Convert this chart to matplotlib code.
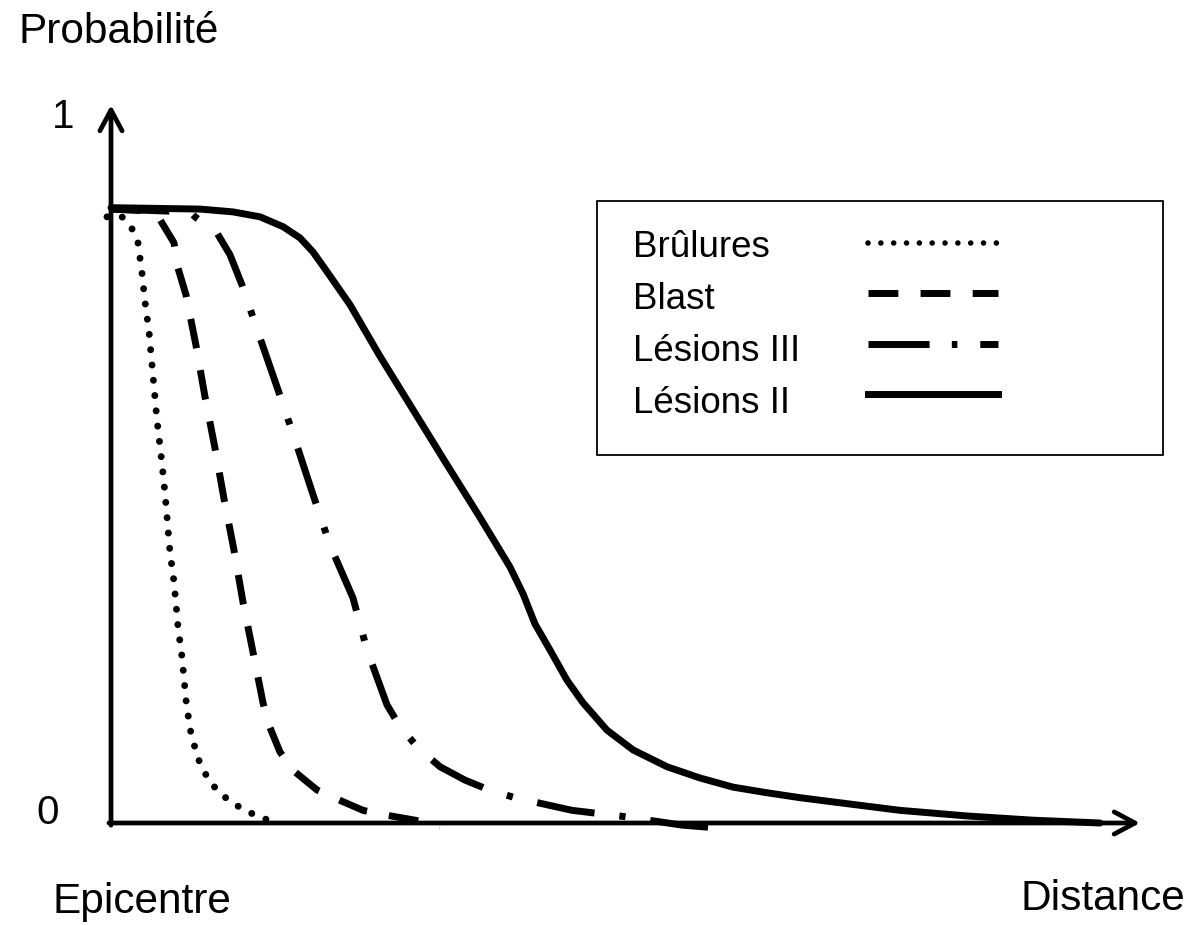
import matplotlib
matplotlib.use("Agg")
import matplotlib.pyplot as plt
from matplotlib.lines import Line2D
from matplotlib.patches import Rectangle

# ── Data (distance in arbitrary units from the epicentre, probability 0..1) ──
brulures_x = [-0.4, 1.1, 2.1, 2.7, 3.1, 3.4, 3.8, 4.2, 4.6, 5.1, 5.4, 5.9, 6.3,
              6.7, 7.1, 7.5, 7.9, 8.3, 8.7, 9.3, 10.1, 11.1, 12.3, 13.6, 15.0, 16.2]
brulures_y = [0.862, 0.862, 0.845, 0.825, 0.782, 0.741, 0.699, 0.636, 0.573, 0.511,
              0.469, 0.385, 0.343, 0.279, 0.236, 0.175, 0.134, 0.112, 0.092, 0.073,
              0.055, 0.040, 0.027, 0.017, 0.007, 0.003]

blast_x = [0.0, 3.0, 4.9, 6.3, 6.7, 7.5, 8.5, 9.4, 10.4, 11.3, 12.3, 13.2, 14.2,
           15.2, 15.8, 16.9, 18.2, 20.6, 22.6, 25.2, 27.6, 30.4, 32.9]
blast_y = [0.873, 0.871, 0.858, 0.825, 0.789, 0.751, 0.679, 0.606, 0.533, 0.461,
           0.388, 0.314, 0.243, 0.171, 0.139, 0.101, 0.075, 0.047, 0.034, 0.018,
           0.011, 0.004, -0.004]

lesions3_x = [0.0, 7.9, 8.4, 10.6, 11.9, 13.1, 14.8, 16.7, 18.4, 20.2, 21.9, 24.2,
              25.6, 27.6, 28.9, 30.7, 32.9, 35.4, 37.8, 40.4, 46.1, 51.4, 57.1, 59.7]
lesions3_y = [0.873, 0.869, 0.862, 0.839, 0.808, 0.765, 0.694, 0.616, 0.545, 0.467,
              0.395, 0.320, 0.246, 0.168, 0.137, 0.107, 0.080, 0.061, 0.047, 0.036,
              0.018, 0.009, -0.003, -0.006]

lesions2_x = [0.0, 8.9, 12.2, 14.9, 17.2, 18.9, 20.2, 21.6, 23.9, 26.8, 30.1, 33.4,
              36.7, 37.9, 39.9, 41.2, 42.4, 43.9, 45.6, 47.2, 49.6, 52.2, 55.6, 58.9,
              62.2, 65.6, 68.9, 72.2, 78.9, 85.6, 92.2, 98.9]
lesions2_y = [0.875, 0.873, 0.869, 0.862, 0.848, 0.832, 0.812, 0.784, 0.737, 0.666,
              0.590, 0.514, 0.439, 0.411, 0.364, 0.326, 0.283, 0.246, 0.203, 0.171,
              0.132, 0.104, 0.080, 0.064, 0.051, 0.043, 0.036, 0.030, 0.018, 0.010,
              0.004, 0.0]

labels = ["Brûlures", "Blast", "Lésions III", "Lésions II"]
series = [(brulures_x, brulures_y), (blast_x, blast_y),
          (lesions3_x, lesions3_y), (lesions2_x, lesions2_y)]

STYLES = [
    {"ls": (0, (0.01, 2.2)), "cap": "round"},
    {"ls": (0, (4.3, 3.2)), "cap": "butt"},
    {"ls": (0, (8.4, 3.6, 0.9, 3.6)), "cap": "butt"},
    {"ls": "solid", "cap": "round"},
]
LEG_STYLES = [
    {"ls": (0, (0.01, 2.3)), "cap": "round", "lw": 4},
    {"ls": (0, (4.3, 3.2)), "cap": "butt", "lw": 5},
    {"ls": (0, (8.8, 3.2, 0.8, 3.3)), "cap": "butt", "lw": 5},
    {"ls": "solid", "cap": "butt", "lw": 5},
]

W, H = 1192, 925
plt.rcParams["font.family"] = ["Liberation Sans", "DejaVu Sans"]

fig = plt.figure(figsize=(W / 100, H / 100), dpi=100)
fig.patch.set_facecolor("white")


def fx(px):
    return px / W


def fy(py):
    return 1 - py / H


ax = fig.add_axes([fx(111), fy(823), (1140 - 111) / W, (823 - 105) / H])
ax.set_xlim(0, 102.9)
ax.set_ylim(0, 1.021)
ax.axis("off")

for (xs, ys), st in zip(series, STYLES):
    ax.plot(xs, ys, color="black", lw=5, linestyle=st["ls"],
            dash_capstyle=st["cap"], solid_capstyle="round",
            solid_joinstyle="round", dash_joinstyle="round",
            clip_on=False, zorder=3)

# axes drawn as arrows
arrow = dict(arrowstyle="->, head_length=0.75, head_width=0.4", lw=3.4,
             color="black", shrinkA=0, shrinkB=0, mutation_scale=20)
ax.annotate("", xy=(1, 0), xytext=(-0.002, 0), xycoords="axes fraction",
            arrowprops=arrow, zorder=4)
ax.annotate("", xy=(0, 1), xytext=(0, -0.003), xycoords="axes fraction",
            arrowprops=arrow, zorder=4)

# ── Texts ──
fs = 30.5
fig.text(fx(18), fy(43), "Probabilité", fontsize=fs, va="baseline", ha="left")
fig.text(fx(52), fy(913), "Epicentre", fontsize=fs, va="baseline", ha="left")
fig.text(fx(1185), fy(910), "Distance", fontsize=fs, va="baseline", ha="right")
fig.text(fx(63), fy(117), "1", fontsize=fs - 1.5, va="center", ha="center")
fig.text(fx(48), fy(813), "0", fontsize=fs - 1.5, va="center", ha="center")

# ── Legend box ──
fig.add_artist(Rectangle((fx(597), fy(455)), (1163 - 597) / W, (455 - 201) / H,
                         transform=fig.transFigure, facecolor="white",
                         edgecolor="black", lw=1.3, zorder=5))
for i, (lab, st) in enumerate(zip(labels, LEG_STYLES)):
    fig.text(fx(633), fy(257 + 52 * i), lab, fontsize=26.5, va="baseline",
             ha="left", zorder=6)
    y = fy(243 + 50.3 * i)
    fig.add_artist(Line2D([fx(868), fx(998)], [y, y], transform=fig.transFigure,
                          color="black", lw=st["lw"], linestyle=st["ls"],
                          dash_capstyle=st["cap"], zorder=6))

fig.savefig("out.png", dpi=100, facecolor="white")
